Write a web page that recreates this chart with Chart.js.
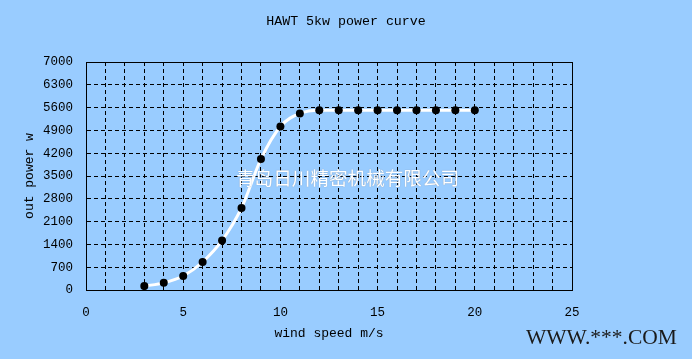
<!DOCTYPE html>
<html>
<head>
<meta charset="utf-8">
<script src="https://cdn.jsdelivr.net/npm/chart.js@4"></script>
<style>
  html, body { margin: 0; padding: 0; background: #99ccff; }
  #wrap { position: relative; width: 692px; height: 359px; overflow: hidden; }
  canvas { position: absolute; left: 0; top: 0; }
  .chart-title {
    position: absolute; left: 0; width: 692px; top: 13px; text-align: center;
    font-family: "Liberation Mono"; font-size: 13.3px; line-height: 18px; color: #000;
  }
  .mark-cn {
    position: absolute; left: 236px; top: 165px;
    font-family: "Noto Sans CJK SC"; font-size: 18.6px; line-height: 24px;
    color: #ffffff; white-space: nowrap;
    text-shadow: 0 0 1px #7a8ea8;
  }
  .mark-www {
    position: absolute; left: 526px; top: 324px;
    font-family: "Liberation Serif"; font-size: 21.5px; line-height: 26px;
    color: #1a1a1a; white-space: nowrap;
  }
</style>
</head>
<body>
<div id="wrap">
  <canvas id="power-chart" width="692" height="359"></canvas>
  <div class="chart-title">HAWT 5kw power curve</div>
  <div class="mark-cn">青岛日川精密机械有限公司</div>
  <div class="mark-www">WWW.***.COM</div>
</div>
<script>
// HAWT 5kw power curve
const windSpeeds = [3, 4, 5, 6, 7, 8, 9, 10, 11, 12, 13, 14, 15, 16, 17, 18, 19, 20];
const powerOut   = [120, 220, 430, 860, 1520, 2520, 4020, 5020, 5420, 5520, 5520, 5520, 5520, 5520, 5520, 5520, 5520, 5520];
const xTickLabels = [0, 5, 10, 15, 20, 25];
const yTickLabels = [0, 700, 1400, 2100, 2800, 3500, 4200, 4900, 5600, 6300, 7000];

const MONO = 'Liberation Mono';

// solid box round the plot area
const plotBox = {
  id: 'plotBox',
  afterDraw(chart) {
    const { ctx, chartArea: a } = chart;
    ctx.save();
    ctx.strokeStyle = '#000';
    ctx.lineWidth = 1;
    ctx.setLineDash([]);
    ctx.strokeRect(Math.round(a.left) + 0.5, Math.round(a.top) + 0.5,
                   Math.round(a.right - a.left), Math.round(a.bottom - a.top));
    ctx.restore();
  }
};

const ctx = document.getElementById('power-chart').getContext('2d');
new Chart(ctx, {
  type: 'line',
  data: {
    datasets: [{
      data: windSpeeds.map((x, i) => ({ x, y: powerOut[i] })),
      borderColor: '#ffffff',
      borderWidth: 3,
      cubicInterpolationMode: 'monotone',
      pointRadius: 4,
      pointBackgroundColor: '#000',
      pointBorderColor: '#000',
      pointBorderWidth: 0,
      fill: false,
    }]
  },
  options: {
    responsive: false,
    animation: false,
    layout: { padding: { top: 62, right: 120, bottom: 0, left: 0 } },
    plugins: {
      legend: { display: false },
      tooltip: { enabled: false },
      title: { display: false }
    },
    scales: {
      x: {
        type: 'linear',
        min: 0, max: 25,
        afterFit: s => { s.height = 69; },
        ticks: {
          stepSize: 1,
          autoSkip: false,
          maxRotation: 0,
          color: '#000',
          padding: 15,
          font: { family: MONO, size: 12.5 },
          callback: v => xTickLabels.includes(v) ? String(v) : ''
        },
        grid: { color: '#000', lineWidth: 1, drawTicks: false },
        border: { display: true, color: '#000', dash: [4, 3] },
        title: {
          display: true,
          text: 'wind speed m/s',
          color: '#000',
          font: { family: MONO, size: 13, lineHeight: 1.2 },
          padding: { top: 0, bottom: 18 }
        }
      },
      y: {
        min: 0, max: 7000,
        afterFit: s => { s.width = 86; },
        afterBuildTicks: s => { s.ticks = yTickLabels.map(v => ({ value: v })); },
        ticks: {
          color: '#000',
          padding: 13,
          font: { family: MONO, size: 12.5 },
          callback: v => String(v)
        },
        grid: { color: '#000', lineWidth: 1, drawTicks: false },
        border: { display: true, color: '#000', dash: [4, 3] },
        title: {
          display: true,
          text: 'out power w',
          color: '#000',
          font: { family: MONO, size: 13, lineHeight: 1.2 },
          padding: { top: 22, bottom: 0 }
        }
      }
    }
  },
  plugins: [plotBox]
});
</script>
</body>
</html>
